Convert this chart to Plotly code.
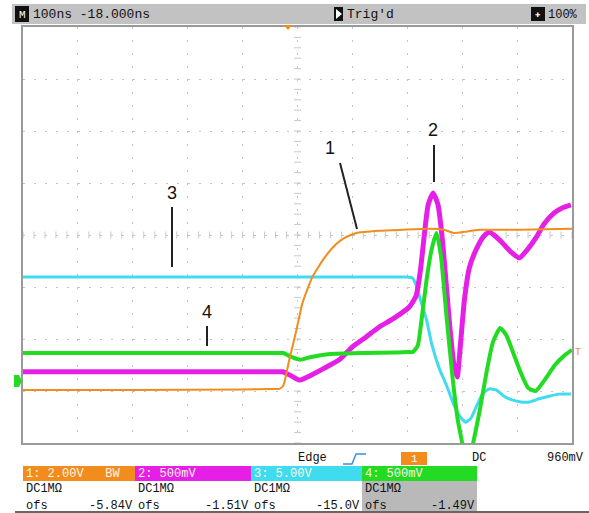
import numpy as np
import plotly.graph_objects as go

# ---------------- data (time in ns, amplitude in screen divisions) ----------------
t_ch1 = [-500, -300, -100, -45, -33, -26, -15, -2, 9, 27, 49, 71, 85, 97, 107, 149, 191, 240, 267, 285, 304, 331, 404, 500]
v_ch1 = [-2.98, -2.98, -2.97, -2.96, -2.96, -2.90, -2.40, -1.83, -1.31, -0.81, -0.44, -0.17, -0.06, 0.00, 0.04, 0.08, 0.10, 0.12, 0.10, 0.04, 0.06, 0.10, 0.10, 0.12]

t_ch2 = [-500, -300, -100, -40, -27, -11, 4, 22, 49, 76, 100, 125, 149, 176, 204, 216, 224, 231, 238, 247, 256, 264,
         271, 278, 285, 291, 296, 304, 313, 325, 338, 349, 360, 373, 389, 404, 418, 435, 449, 467, 482, 498]
v_ch2 = [-2.63, -2.63, -2.63, -2.63, -2.63, -2.71, -2.79, -2.71, -2.56, -2.40, -2.15, -1.96, -1.77, -1.60, -1.38, -1.17, -0.67, 0.00, 0.58, 0.81, 0.58, -0.10,
         -0.96, -1.83, -2.50, -2.73, -2.21, -1.25, -0.63, -0.29, -0.04, 0.06, -0.02, -0.15, -0.33, -0.44, -0.29, -0.04, 0.21, 0.42, 0.52, 0.58]

t_ch3 = [-500, -300, -100, 100, 180, 200, 209, 216, 224, 235, 245, 258, 271, 285, 298, 307, 316, 327, 338, 349, 362, 376, 391, 407, 422, 440, 458, 476, 498]
v_ch3 = [-0.81, -0.81, -0.81, -0.81, -0.81, -0.81, -0.82, -0.96, -1.25, -1.63, -2.12, -2.56, -2.88, -3.27, -3.52, -3.60, -3.52, -3.27, -3.04, -2.96, -2.98, -3.10, -3.17, -3.21, -3.21, -3.15, -3.10, -3.06, -3.06]

t_ch4 = [-500, -300, -100, -40, -26, -10, 5, 23, 59, 120, 180, 200, 210, 219, 226, 235, 244, 253, 261, 272, 283, 292, 300, 309, 320, 332,
         345, 356, 369, 380, 391, 406, 420, 434, 450, 469, 487, 500]
v_ch4 = [-2.27, -2.27, -2.27, -2.27, -2.27, -2.35, -2.40, -2.35, -2.29, -2.27, -2.26, -2.25, -2.25, -2.13, -1.63, -0.87, -0.29, 0.04, -0.38, -1.63, -2.79, -3.56, -4.00, -4.52, -4.00, -3.37,
         -2.60, -2.06, -1.79, -1.92, -2.21, -2.63, -2.94, -3.00, -2.79, -2.50, -2.31, -2.21]

channel_headers = ["1: 2.00V   BW", "2: 500mV", "3: 5.00V", "4: 500mV"]
channel_coupling = ["DC1MΩ", "DC1MΩ", "DC1MΩ", "DC1MΩ"]
channel_offsets = ["-5.84V", "-1.51V", "-15.0V", "-1.49V"]
trace_labels = ["1", "2", "3", "4"]

# ---------------- styling / layout helpers ----------------
C_ORANGE = "#f28c1c"
C_MAGENTA = "#e51fe5"
C_CYAN = "#3fdcef"
C_GREEN = "#22db22"

L, R, T, B = 23, 572, 27, 443
W_, H_ = R - L, B - T
def PX(x):
    return (x - L) / W_
def PY(y):
    return (B - y) / H_

MONO = "Liberation Mono, DejaVu Sans Mono, monospace"

fig = go.Figure()

# center cross minor ticks
tick_t = np.arange(-500, 501, 20)
fig.add_trace(go.Scatter(x=tick_t, y=np.zeros_like(tick_t), mode="markers",
                         marker=dict(symbol="line-ns", size=5, line=dict(width=1, color="#c8c8c8")),
                         hoverinfo="skip", showlegend=False))
tick_v = np.arange(-4, 4.01, 0.2)
fig.add_trace(go.Scatter(x=np.zeros_like(tick_v), y=tick_v, mode="markers",
                         marker=dict(symbol="line-ew", size=5, line=dict(width=1, color="#c8c8c8")),
                         hoverinfo="skip", showlegend=False))

SM = 0.5
fig.add_trace(go.Scatter(x=t_ch3, y=v_ch3, mode="lines", line=dict(color=C_CYAN, width=3, shape="spline", smoothing=SM), showlegend=False))
fig.add_trace(go.Scatter(x=t_ch2, y=v_ch2, mode="lines", line=dict(color=C_MAGENTA, width=5, shape="spline", smoothing=SM), showlegend=False))
fig.add_trace(go.Scatter(x=t_ch4, y=v_ch4, mode="lines", line=dict(color=C_GREEN, width=4, shape="spline", smoothing=SM), showlegend=False))
fig.add_trace(go.Scatter(x=t_ch1, y=v_ch1, mode="lines", line=dict(color=C_ORANGE, width=2, shape="spline", smoothing=SM), showlegend=False))

shapes = []
annots = []

def rect(x0, y0, x1, y1, fill, line=None):
    shapes.append(dict(type="rect", xref="paper", yref="paper", x0=PX(x0), x1=PX(x1), y0=PY(y1), y1=PY(y0),
                       fillcolor=fill, line=dict(width=0) if line is None else line, layer="above"))

def seg(x0, y0, x1, y1, color="#222", width=2):
    shapes.append(dict(type="line", xref="paper", yref="paper", x0=PX(x0), x1=PX(x1), y0=PY(y0), y1=PY(y1),
                       line=dict(color=color, width=width), layer="above"))

def text(x, y, s, size=12, color="#111", xanchor="left", font=MONO):
    annots.append(dict(xref="paper", yref="paper", x=PX(x), y=PY(y), text=s, showarrow=False,
                       xanchor=xanchor, yanchor="middle", font=dict(family=font, size=size, color=color)))

# top status bar
rect(12, 4, 586, 24, "#c2c2c2")
rect(15, 6, 29, 22, "#111")
text(22, 14.5, "M", 11, "white", "center")
text(31, 14.5, "100ns -18.000ns", 13, "#111")
rect(334, 7, 343, 21, "#111")
shapes.append(dict(type="path", xref="paper", yref="paper", layer="above",
                   path=f"M {PX(336)} {PY(9)} L {PX(342)} {PY(14)} L {PX(336)} {PY(19)} Z",
                   fillcolor="white", line=dict(width=0)))
text(345, 14.5, "Trig'd", 13, "#111")
rect(531, 7, 545, 21, "#111")
text(538, 14.5, "✚", 9, "white", "center")
text(546, 14.5, "100%", 12, "#111")
# trigger position marker
shapes.append(dict(type="path", xref="paper", yref="paper", layer="above",
                   path=f"M {PX(284)} {PY(25)} L {PX(292)} {PY(25)} L {PX(288)} {PY(30)} Z",
                   fillcolor=C_ORANGE, line=dict(width=0)))

# ground marker on left, trigger level on right
shapes.append(dict(type="path", xref="paper", yref="paper", layer="above",
                   path=f"M {PX(14)} {PY(375)} L {PX(19)} {PY(375)} L {PX(22)} {PY(381)} L {PX(19)} {PY(387)} L {PX(14)} {PY(387)} Z",
                   fillcolor=C_GREEN, line=dict(width=0)))
text(578, 352, "T", 10, C_ORANGE, "center")

# trace labels with leader lines
LAB = "Liberation Sans, Arial"
text(330, 148, trace_labels[0], 18, "#111", "center", LAB)
seg(340, 163, 357, 229)
text(433, 130, trace_labels[1], 18, "#111", "center", LAB)
seg(434, 145, 434, 182)
text(172, 193, trace_labels[2], 18, "#111", "center", LAB)
seg(172, 207, 172, 267)
text(207, 312, trace_labels[3], 18, "#111", "center", LAB)
seg(207, 326, 207, 346)

# trigger info row
text(296, 458, "Edge", 12, "#111")
shapes.append(dict(type="path", xref="paper", yref="paper", layer="above",
                   path=f"M {PX(343)} {PY(464)} L {PX(352)} {PY(464)} L {PX(356)} {PY(454)} L {PX(366)} {PY(454)}",
                   line=dict(color="#3a8fe0", width=1.5)))
shapes.append(dict(type="rect", xref="paper", yref="paper", layer="above",
                   x0=PX(401), x1=PX(427), y0=PY(465), y1=PY(452), fillcolor=C_ORANGE, line=dict(width=0)))
text(414, 458.5, "1", 11, "white", "center")
text(470, 458, "DC", 12, "#111")
text(586, 458, "960mV", 12, "#111", "right")

# channel info boxes
cells = [(23, 135, C_ORANGE), (135, 251, C_MAGENTA), (251, 362, C_CYAN), (362, 477, C_GREEN)]
for i, (x0, x1, col) in enumerate(cells):
    rect(x0, 466, x1, 481, col)
    if i == 3:
        rect(x0, 481, x1, 513, "#b9b9b9")
    text(x0 + 1, 473.5, channel_headers[i], 12, "#fff6e8")
    text(x0 + 1, 489, channel_coupling[i], 12, "#111")
    text(x0 + 1, 506, "ofs", 12, "#111")
    text(x1, 506, channel_offsets[i], 12, "#111", "right")
seg(15, 512, 589, 512, "#666", 2)

fig.update_layout(
    width=589, height=513, autosize=False,
    margin=dict(l=L, r=589 - R, t=T, b=513 - B),
    paper_bgcolor="white", plot_bgcolor="white",
    shapes=shapes, annotations=annots,
    xaxis=dict(range=[-500, 500], tickvals=list(range(-400, 401, 100)), showticklabels=False, ticks="",
               showgrid=True, gridcolor="#c4c4c4", gridwidth=1, griddash="2px,11px",
               zeroline=False, showline=True, linecolor="#9a9a9a", linewidth=2, mirror=True, fixedrange=True),
    yaxis=dict(range=[-4, 4], tickvals=[-3, -2, -1, 0, 1, 2, 3], showticklabels=False, ticks="",
               showgrid=True, gridcolor="#c4c4c4", gridwidth=1, griddash="2px,9px",
               zeroline=False, showline=True, linecolor="#9a9a9a", linewidth=2, mirror=True, fixedrange=True),
)

fig.write_html("out.html")
